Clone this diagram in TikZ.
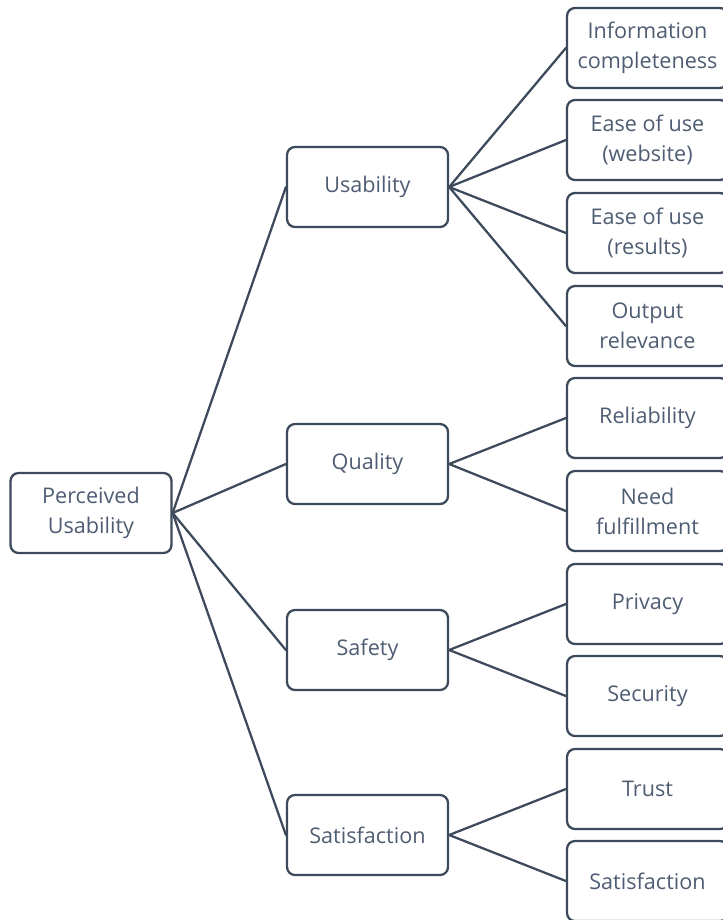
\documentclass[tikz,border=0pt]{standalone}
\usepackage{fontspec}
\setmainfont{Open Sans}
\definecolor{slate}{HTML}{4F5D73}
\definecolor{edgegray}{HTML}{3D4A5C}

\begin{document}
\begin{tikzpicture}[x=0.75pt, y=-0.75pt, line cap=round, line join=round,
    box/.style={draw=edgegray, line width=1.7pt, rounded corners=6pt, fill=white,
      minimum width=120.75pt, minimum height=60pt, inner sep=0pt, align=center,
      text=slate, font=\fontsize{16.2}{22.5}\selectfont},
    link/.style={draw=edgegray, line width=1.7pt}]
  \useasboundingbox (0,0) rectangle (723,920);

  % root
  \node[box] (pu) at (91,513) {Perceived\\Usability};

  % middle level
  \node[box] (usab) at (367.5,187) {Usability};
  \node[box] (qual) at (367.5,464) {Quality};
  \node[box] (safe) at (367.5,650) {Safety};
  \node[box] (sati) at (367.5,835) {Satisfaction};

  % leaves
  \node[box] (info) at (647.5,48) {Information\\completeness};
  \node[box] (easew) at (647.5,140) {Ease of use\\(website)};
  \node[box] (easer) at (647.5,233) {Ease of use\\(results)};
  \node[box] (outp) at (647.5,326) {Output\\relevance};
  \node[box] (reli) at (647.5,418) {Reliability};
  \node[box] (need) at (647.5,511) {Need\\fulfillment};
  \node[box] (priv) at (647.5,604) {Privacy};
  \node[box] (secu) at (647.5,696) {Security};
  \node[box] (trus) at (647.5,789) {Trust};
  \node[box] (satl) at (647.5,881) {Satisfaction};

  % connectors
  \foreach \m in {usab,qual,safe,sati}
    \draw[link] (pu.east) -- (\m.west);
  \foreach \l in {info,easew,easer,outp}
    \draw[link] (usab.east) -- (\l.west);
  \draw[link] (qual.east) -- (reli.west);
  \draw[link] (qual.east) -- (need.west);
  \draw[link] (safe.east) -- (priv.west);
  \draw[link] (safe.east) -- (secu.west);
  \draw[link] (sati.east) -- (trus.west);
  \draw[link] (sati.east) -- (satl.west);
\end{tikzpicture}
\end{document}
